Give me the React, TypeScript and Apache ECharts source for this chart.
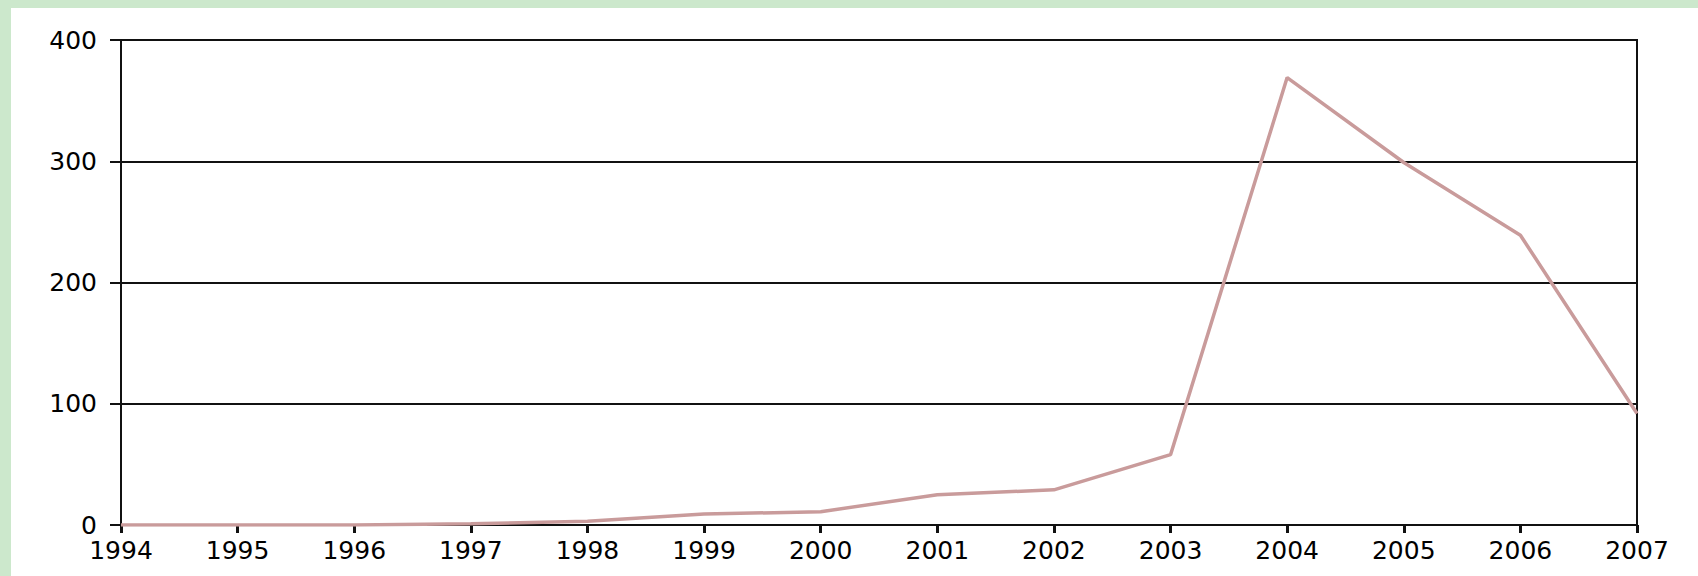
import React, { useEffect, useRef } from "react";
import * as echarts from "echarts";

const years = ["1994", "1995", "1996", "1997", "1998", "1999", "2000", "2001", "2002", "2003", "2004", "2005", "2006", "2007"];
const values = [0, 0, 0, 1, 3, 9, 11, 25, 29, 58, 369, 299, 239, 92];
const yTicks = [0, 100, 200, 300, 400];

export default function App() {
  const ref = useRef<HTMLDivElement>(null);
  useEffect(() => {
    if (!ref.current) return;
    const chart = echarts.init(ref.current, null, { renderer: "svg" });
    chart.setOption({
      animation: false,
      backgroundColor: "#ffffff",
      grid: {
        left: 110,
        top: 32,
        right: 61,
        bottom: 51,
        show: true,
        borderColor: "#111111",
        borderWidth: 2,
        backgroundColor: "#ffffff",
      },
      xAxis: {
        type: "category",
        data: years,
        boundaryGap: false,
        axisLine: { show: true, lineStyle: { color: "#111111", width: 2 } },
        axisTick: { show: true, inside: false, length: 8, lineStyle: { color: "#111111", width: 3 } },
        axisLabel: {
          color: "#000000",
          fontFamily: "DejaVu Sans",
          fontSize: 25,
          margin: 13,
        },
        splitLine: { show: false },
      },
      yAxis: {
        type: "value",
        min: yTicks[0],
        max: yTicks[yTicks.length - 1],
        interval: 100,
        axisLine: { show: true, lineStyle: { color: "#111111", width: 2 } },
        axisTick: { show: true, length: 11, lineStyle: { color: "#111111", width: 2 } },
        axisLabel: {
          color: "#000000",
          fontFamily: "DejaVu Sans",
          fontSize: 25,
          margin: 24,
        },
        splitLine: { show: true, lineStyle: { color: "#111111", width: 2 } },
      },
      series: [
        {
          type: "line",
          data: values,
          symbol: "none",
          lineStyle: { color: "#c99b9b", width: 3.5 },
        },
      ],
    });
    return () => chart.dispose();
  }, []);
  return (
    <div
      style={{
        position: "fixed",
        left: 0,
        top: 0,
        width: 1698,
        height: 576,
        background: "#cce8cc",
      }}
    >
      <div
        ref={ref}
        style={{ position: "absolute", left: 11, top: 8, width: 1687, height: 568, background: "#ffffff" }}
      />
    </div>
  );
}
